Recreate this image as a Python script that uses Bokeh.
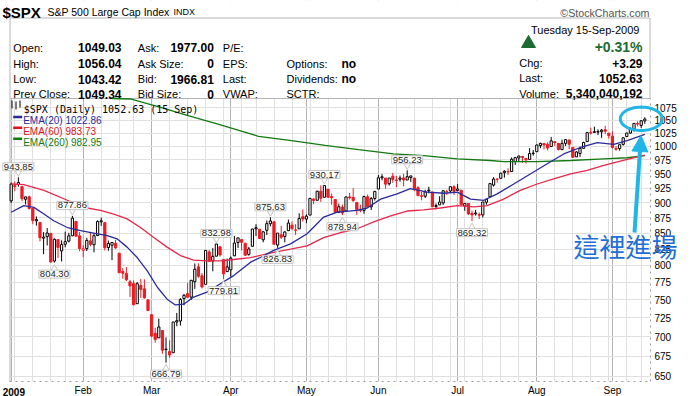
import math
import numpy as np
import pandas as pd
from bokeh.plotting import figure
from bokeh.models import (ColumnDataSource, Range1d, FixedTicker, PrintfTickFormatter,
                          Label, Arrow, NormalHead, PolyAnnotation, BoxAnnotation,
                          GlobalInlineStyleSheet)
from bokeh.core.properties import value
from bokeh.embed import file_html
from bokeh.resources import INLINE

# ---------------- data ----------------
first_day = "2009-01-02"
last_day = "2009-09-15"
market_holidays = ["2009-01-19", "2009-02-16", "2009-04-10", "2009-05-25", "2009-07-03", "2009-09-07"]
prev_close_2008 = 903.25

opens = [902.99, 929.17, 931.17, 927.45, 905.73, 909.91, 890.40, 869.79, 867.28, 841.99,
         844.45, 849.64, 806.77, 839.74, 822.16, 832.50, 837.30, 845.73, 868.89, 845.69,
         823.09, 825.69, 837.77, 831.75, 846.09, 868.24, 866.87, 827.41, 830.95, 833.95,
         818.61, 791.06, 787.91, 775.87, 773.25, 744.69, 770.64, 765.76, 749.93,
         729.57, 704.44, 698.60, 708.27, 684.04, 680.76, 679.28, 719.59, 720.89, 751.97,
         758.84, 753.88, 776.01, 797.92, 784.58, 772.31, 820.60, 806.81, 814.06, 828.68,
         809.07, 790.88,
         793.59, 814.53, 835.13, 839.75, 834.12, 816.76, 829.29, 856.85, 856.24, 839.44,
         854.54, 865.18, 868.27, 831.25, 847.26, 844.62, 853.91, 862.82, 854.48, 856.85, 876.59,
         872.74, 879.21, 906.10, 903.95, 919.58, 909.03, 922.99, 910.52, 905.40, 884.24,
         892.76, 886.07, 909.67, 908.62, 900.42, 888.68, 887.00, 909.95, 892.96, 907.02,
         923.26, 942.87, 942.51, 932.49, 945.67, 938.12, 940.35, 942.73, 939.04, 943.44,
         942.45, 925.60, 911.89, 910.86, 919.96, 918.13, 893.46, 896.31, 899.45, 918.84,
         919.86, 927.15,
         920.82, 921.24, 894.27, 898.60, 881.90, 881.28, 880.03, 879.57, 900.77, 910.15,
         930.17, 940.56, 942.07, 951.97, 953.40, 954.07, 972.16, 978.63, 981.48, 977.66,
         976.01, 986.80,
         990.22, 1001.41, 1005.41, 1004.06, 999.83, 1008.89, 1005.77, 994.00, 1005.86, 1012.23,
         998.18, 980.62, 986.88, 996.41, 1009.06, 1026.59, 1026.63, 1027.35, 1027.81, 1031.62,
         1025.21,
         1019.52, 996.07, 996.12, 1003.84, 1018.67, 1025.36, 1032.99, 1043.92, 1040.15, 1049.03]
highs = [934.73, 936.63, 943.85, 927.45, 910.00, 911.93, 890.40, 877.02, 867.28, 851.59,
         858.13, 849.64, 841.72, 839.74, 838.61, 852.53, 850.45, 877.86, 868.89, 851.66,
         830.78, 842.60, 851.85, 850.55, 870.75, 875.01, 868.05, 838.22, 835.13, 839.43,
         818.61, 796.17, 797.58, 778.69, 777.85, 775.49, 780.12, 779.42, 751.27,
         729.57, 711.67, 724.12, 708.27, 699.09, 695.27, 719.60, 731.92, 752.63, 758.29,
         774.53, 778.12, 803.04, 803.24, 788.91, 823.37, 823.65, 826.78, 832.98, 828.68,
         809.07, 810.48,
         813.62, 845.61, 842.50, 839.75, 834.12, 828.42, 856.91, 864.31, 856.24, 852.93,
         870.35, 875.63, 868.27, 850.09, 861.78, 852.87, 871.80, 868.83, 864.48, 882.06, 888.70,
         880.48, 907.85, 907.70, 920.28, 929.58, 930.17, 922.99, 915.57, 905.40, 898.36,
         896.97, 910.00, 916.39, 924.60, 900.42, 896.65, 911.76, 913.84, 909.45, 920.02,
         947.77, 949.38, 942.51, 942.47, 951.69, 946.33, 946.92, 949.77, 956.23, 946.30,
         942.45, 928.00, 918.44, 921.93, 927.09, 918.13, 898.69, 910.85, 921.42, 922.00,
         927.99, 930.01,
         931.92, 921.24, 898.72, 898.60, 886.80, 887.86, 883.57, 901.05, 905.84, 933.95,
         943.96, 941.89, 951.62, 956.53, 959.83, 979.42, 979.79, 982.49, 982.35, 977.76,
         996.68, 993.18,
         1003.61, 1007.12, 1006.64, 1008.00, 1018.00, 1010.12, 1005.77, 1012.78, 1013.14, 1012.60,
         998.18, 991.20, 999.61, 1008.92, 1027.59, 1035.82, 1037.75, 1032.47, 1033.33, 1039.47,
         1025.21,
         1028.45, 1000.34, 1003.43, 1016.48, 1026.07, 1036.34, 1044.14, 1048.18, 1049.74, 1056.04]
lows = [899.35, 919.53, 927.28, 902.37, 896.81, 888.31, 864.32, 862.02, 836.93, 817.04,
        830.66, 804.47, 804.30, 811.29, 806.07, 827.69, 835.40, 845.73, 844.15, 821.67,
        812.87, 821.98, 829.18, 819.91, 845.42, 861.65, 822.99, 822.30, 808.06, 825.21,
        789.17, 780.43, 777.03, 754.25, 742.37, 744.69, 752.89, 751.75, 734.52,
        699.70, 692.30, 698.60, 677.93, 666.79, 672.88, 679.28, 713.85, 714.76, 742.46,
        753.37, 749.93, 765.64, 781.82, 766.20, 772.31, 805.48, 791.37, 814.06, 813.43,
        779.81, 790.88,
        783.32, 814.53, 826.70, 822.79, 814.53, 814.84, 829.29, 845.35, 840.57, 835.58,
        847.04, 860.87, 832.39, 826.83, 840.57, 835.45, 853.91, 854.65, 847.12, 856.85, 868.51,
        866.10, 879.21, 897.34, 903.95, 901.36, 909.03, 908.68, 896.46, 882.79, 882.52,
        878.94, 886.07, 905.22, 901.37, 879.61, 883.75, 881.46, 891.87, 887.60, 903.56,
        923.26, 938.46, 923.85, 929.32, 934.13, 926.44, 936.15, 927.97, 939.04, 935.66,
        919.65, 911.60, 903.78, 907.94, 915.80, 893.04, 888.86, 896.31, 896.27, 913.03,
        916.18, 912.86,
        920.82, 896.42, 886.36, 879.93, 869.32, 878.45, 872.81, 875.32, 896.50, 910.15,
        927.45, 934.65, 940.99, 943.22, 947.75, 953.27, 965.95, 972.29, 969.35, 968.65,
        976.01, 982.85,
        990.22, 996.68, 994.31, 992.49, 999.83, 1000.99, 992.40, 993.36, 1000.82, 994.60,
        978.51, 980.62, 980.62, 996.39, 1009.06, 1022.48, 1026.21, 1021.57, 1016.20, 1023.13,
        1014.62,
        996.28, 991.97, 992.25, 1001.65, 1018.67, 1023.97, 1028.04, 1038.40, 1035.00, 1043.42]
closes = [931.80, 927.45, 934.70, 906.65, 909.73, 890.35, 870.26, 871.79, 842.62, 843.74,
          850.12, 805.22, 840.24, 827.50, 831.95, 836.57, 845.71, 874.09, 845.14, 825.88,
          825.44, 838.51, 832.23, 845.85, 868.60, 869.89, 827.16, 833.74, 835.19, 826.84,
          789.17, 788.42, 778.94, 770.05, 743.33, 773.14, 764.90, 752.83, 735.09,
          700.82, 696.33, 712.87, 682.55, 683.38, 676.53, 719.60, 721.36, 750.74, 756.55,
          753.89, 778.12, 794.35, 784.04, 768.54, 822.92, 806.12, 813.88, 832.86, 815.94,
          787.53, 797.87,
          811.08, 834.38, 842.50, 835.48, 815.55, 825.16, 856.56, 858.73, 841.50, 852.06,
          865.30, 869.60, 832.39, 850.08, 843.55, 851.92, 866.23, 857.51, 855.16, 873.64, 872.81,
          877.52, 907.24, 903.80, 919.53, 907.39, 929.23, 909.24, 908.35, 883.92, 893.07,
          882.88, 909.71, 908.13, 903.47, 888.33, 887.00, 910.33, 893.06, 906.83, 919.14,
          942.87, 944.74, 931.76, 942.46, 940.09, 939.14, 942.43, 939.15, 944.89, 946.21,
          923.72, 911.97, 910.71, 918.37, 921.23, 893.04, 895.10, 900.94, 920.26, 918.90,
          927.23, 919.32,
          923.33, 896.42, 898.72, 881.03, 879.56, 882.68, 879.13, 901.05, 905.84, 932.68,
          940.74, 940.38, 951.13, 954.58, 954.07, 976.29, 979.26, 982.18, 979.62, 975.15,
          986.75, 987.48,
          1002.63, 1005.65, 1002.72, 997.08, 1010.48, 1007.10, 994.35, 1005.81, 1012.73, 1004.09,
          979.73, 989.67, 996.46, 1007.37, 1026.13, 1025.57, 1028.00, 1028.12, 1030.98, 1028.93,
          1020.62,
          998.04, 994.75, 1003.24, 1016.40, 1025.39, 1033.37, 1044.14, 1042.73, 1049.34, 1052.63]

# moving averages (bar number, price)
ema20_x = [0, 3.5, 6.3, 9.1, 11.8, 15.6, 19.3, 22.9, 26.7, 29.4, 32.2, 35, 37.8, 40.6, 43.3,
           45.6, 47.9, 50.7, 54.4, 58.1, 61.8, 66.5, 69.2, 72.9, 77.6, 82.2, 86.8, 90.6, 96.1,
           98.9, 102.6, 107.2, 110.9, 115.6, 120.2, 123.9, 127.6, 131.3, 135, 139.6, 144.3,
           148.9, 153.5, 158.1, 162.8, 167.4, 171.1, 176]
ema20_v = [884, 895, 892, 881, 870, 859, 854, 850, 846, 841, 828, 812, 792, 768, 751,
           743, 744, 754, 761, 773, 785, 805, 812, 823, 833, 849, 876, 884, 887,
           891, 906, 915, 924, 918, 916, 918, 906, 904, 915, 932, 950,
           968, 986, 998, 1007, 1004, 1011, 1022.86]
ema60_x = [0, 3.5, 9.1, 15.6, 21.1, 24.8, 28.5, 32.2, 35.9, 39.6, 43.3, 47, 50.7, 54.4, 58.1,
           61.8, 66.5, 68.3, 72.9, 77.6, 82.2, 86.8, 91.5, 96.1, 100.7, 105.4, 110, 114.6,
           119.2, 123.9, 128.5, 132.2, 136.8, 141.4, 146.1, 150.7, 155.4, 160, 164.6, 169.2, 176]
ema60_v = [932, 931, 921, 904, 891, 887, 881, 873, 859, 843, 828, 815, 808, 807, 807,
           809, 812, 814, 820, 825, 830, 843, 851, 857, 868, 878, 886, 888,
           891, 895, 893, 895, 906, 921, 932, 941, 950, 956, 965, 973, 983.73]
ema260_x = [28, 33.1, 41.5, 48.9, 57.2, 66.5, 68.7, 77.9, 87.2, 96.5, 106.2, 114.6, 123.9,
            133.1, 136.8, 146.1, 155.4, 164.6, 171.1, 176]
ema260_v = [1103, 1093, 1076, 1060, 1043, 1024, 1019, 1011, 1002, 994, 986, 983, 977,
            974, 972, 972, 974, 977, 979, 982.95]

month_labels = ["2009", "Feb", "Mar", "Apr", "May", "Jun", "Jul", "Aug", "Sep"]
price_ticks = [650, 675, 700, 725, 750, 775, 800, 825, 850, 875, 900, 925, 950, 975,
               1000, 1025, 1050, 1075]

callout_dates = ["2009-01-06", "2009-01-28", "2009-01-21", "2009-03-06", "2009-03-26",
                 "2009-03-30", "2009-04-17", "2009-04-21", "2009-05-08", "2009-05-15",
                 "2009-06-11", "2009-07-08"]
callout_values = [943.85, 877.86, 804.30, 666.79, 832.98, 779.81, 875.63, 826.83,
                  930.17, 878.94, 956.23, 869.32]
callout_sides = ["high", "high", "low", "low", "high", "low", "high", "low",
                 "high", "low", "high", "low"]

legend_title = "$SPX (Daily) 1052.63 (15 Sep)"
legend_names = ["EMA(20) 1022.86", "EMA(60) 983.73", "EMA(260) 982.95"]
note_text = "這裡進場"

title_symbol = "$SPX"
title_name = "S&P 500 Large Cap Index"
title_exchange = "INDX"
credit = "\u00a9StockCharts.com"
quote_date = "Tuesday  15-Sep-2009"
pct_change = "+0.31%"
col1_labels = ["Open:", "High:", "Low:", "Prev Close:"]
col1_values = ["1049.03", "1056.04", "1043.42", "1049.34"]
col2_labels = ["Ask:", "Ask Size:", "Bid:", "Bid Size:"]
col2_values = ["1977.00", "0", "1966.81", "0"]
col3_labels = ["P/E:", "EPS:", "Last:", "VWAP:"]
col4_labels = ["", "Options:", "Dividends:", "SCTR:"]
col4_values = ["", "no", "no", ""]
right_labels = ["Chg:", "Last:", "Volume:"]
right_values = ["+3.29", "1052.63", "5,340,040,192"]

# ---------------- styling / layout ----------------
RED = "#ec1c24"
BLUE = "#2a2a9c"
LRED = "#e8284a"
GREEN = "#127a12"
HGREEN = "#1c6b30"
CYAN = "#22b5e8"
FONT = "Liberation Sans"

W, H = 698, 396
CH_L, CH_R, CH_T, CH_B = 9, 650, 98, 381   # price panel, in page pixels
BAR_PX = 3.6        # pixels per trading day
X0_PX = 10.7        # pixel of the first trading day
LOG_PX = 533.5      # pixels per unit of ln(price)
PRICE_AT_TOP = 1094.0


def X(px):
    return (px - X0_PX) / BAR_PX


def Y(py):
    return PRICE_AT_TOP * math.exp(-(py - CH_T) / LOG_PX)


dates = pd.bdate_range(first_day, last_day)
dates = dates[~dates.isin(pd.to_datetime(market_holidays))]
n = len(closes)
bars = list(range(n))
month_start = [i for i in bars if i == 0 or dates[i].month != dates[i - 1].month]
week_start = [i for i in bars if i == 0 or dates[i].weekday() < dates[i - 1].weekday()]
day_index = {d.strftime("%Y-%m-%d"): i for i, d in enumerate(dates)}

p = figure(frame_width=W, frame_height=H, x_range=Range1d(X(0), X(W)),
           y_range=Range1d(Y(H), Y(0)), y_axis_type="log", y_axis_location="right",
           x_axis_location="below", toolbar_location=None, output_backend="svg",
           min_border=0, outline_line_color=None)

# grid of the price panel
p.xgrid.ticker = FixedTicker(ticks=month_start, minor_ticks=week_start)
p.xgrid.grid_line_color = "#b4b4b4"
p.xgrid.minor_grid_line_color = "#e0e0e0"
p.ygrid.ticker = FixedTicker(ticks=price_ticks)
p.ygrid.grid_line_color = "#e0e0e0"
# keep the grid inside the price panel
for kw in (dict(bottom=Y(CH_T)), dict(top=Y(CH_B)), dict(left=X(CH_R)), dict(right=X(CH_L))):
    p.add_layout(BoxAnnotation(fill_color="white", fill_alpha=1, line_color=None,
                               level="underlay", **kw))

# axes drawn at the panel edges
p.xaxis.fixed_location = Y(CH_B)
p.xaxis.bounds = (X(CH_L), X(CH_R))
p.yaxis.fixed_location = X(CH_R)
p.yaxis.bounds = (Y(CH_B), Y(CH_T))
p.xaxis.ticker = FixedTicker(ticks=month_start)
overrides = {m: lab for m, lab in zip(month_start, month_labels)}
overrides[month_start[0]] = ""
p.xaxis.major_label_overrides = overrides
p.yaxis.ticker = FixedTicker(ticks=price_ticks)
p.yaxis.formatter = PrintfTickFormatter(format="%d")
for ax in (p.xaxis[0], p.yaxis[0]):
    ax.axis_line_color = "#999999"
    ax.axis_line_dash = "dotted"
    ax.major_tick_line_color = None
    ax.minor_tick_line_color = None
    ax.major_tick_out = 0
    ax.major_tick_in = 0
    ax.major_label_text_font = FONT
    ax.major_label_text_font_size = "10px"
    ax.major_label_text_color = "black"
p.xaxis.major_label_standoff = 3
p.yaxis.major_label_standoff = 4
# the year under the first trading day, bold, kept inside the page
p.text(x=[month_start[0]], y=[Y(391)], text=[month_labels[0]], x_offset=-8.5,
       text_font=value(FONT), text_font_size=value("10px"), text_font_style="bold",
       text_align="left", text_baseline="alphabetic", text_color="black")

# header box and panel border
p.quad(left=X(9.5), right=X(649.5), top=Y(17.5), bottom=Y(CH_T), fill_color=None,
       line_color="#b5b5b5")
p.segment(x0=[X(9.5)], x1=[X(9.5)], y0=[Y(CH_T)], y1=[Y(CH_B)], line_color="#b5b5b5")


def htext(pxs, pys, texts, size, bold=False, align="left", color="black", font=FONT):
    p.text(x=[X(a) for a in pxs], y=[Y(b) for b in pys], text=texts, text_font=value(font),
           text_font_size=value(size), text_font_style="bold" if bold else "normal",
           text_align=align, text_baseline="alphabetic", text_color=color)


htext([2], [11.5], [title_symbol], "15px", bold=True)
htext([47], [11.3], [title_name], "10.5px")
htext([173], [11], [title_exchange], "9px")
htext([649], [12.7], [credit], "10.7px", align="right", color="#555555")

rows_y = [47.3, 63.3, 78.7, 93.7]
htext([12.7] * 4, rows_y, col1_labels, "11px")
htext([121] * 4, rows_y, col1_values, "12px", bold=True, align="right")
htext([137.3] * 4, rows_y, col2_labels, "11px")
htext([213.3] * 4, rows_y, col2_values, "12px", bold=True, align="right")
htext([222.3] * 4, rows_y, col3_labels, "11px")
htext([286] * 4, rows_y, col4_labels, "11px")
htext([341] * 4, rows_y, col4_values, "12px", bold=True)

htext([642], [29.3], [quote_date], "11px", align="right")
p.patch([X(521), X(528), X(535)], [Y(47), Y(35), Y(47)], fill_color=HGREEN, line_color=HGREEN)
htext([642], [46.7], [pct_change], "14px", bold=True, align="right", color=HGREEN)
right_y = [62.7, 77.7, 93.3]
htext([518.7] * 3, right_y, right_labels, "11px")
htext([642] * 3, right_y, right_values, "12px", bold=True, align="right")

# candlesticks
prev = [prev_close_2008] + closes[:-1]
col = [RED if c < pc else "black" for c, pc in zip(closes, prev)]
fill = [cl if c < o else "white" for cl, c, o in zip(col, closes, opens)]
src = ColumnDataSource(dict(x=bars, h=highs, l=lows,
                            top=[max(o, c) for o, c in zip(opens, closes)],
                            bot=[min(o, c) for o, c in zip(opens, closes)],
                            col=col, fill=fill))
p.segment(x0="x", y0="l", x1="x", y1="h", line_color="col", line_width=1, source=src)
p.vbar(x="x", width=0.62, top="top", bottom="bot", fill_color="fill", line_color="col",
       line_width=1, source=src)

# moving averages (the long one runs off the top of the panel)
ema260_src = ColumnDataSource(dict(x=ema260_x, y=[min(v, Y(CH_T)) for v in ema260_v]))
p.line(x="x", y="y", source=ema260_src, line_color=GREEN, line_width=1.3)
p.line(ema60_x, ema60_v, line_color=LRED, line_width=1.3)
p.line(ema20_x, ema20_v, line_color=BLUE, line_width=1.3)

# callouts
cx, cy, cm = [], [], []
for d, v, s in zip(callout_dates, callout_values, callout_sides):
    i = day_index[d]
    up = s == "high"
    cx.append(i)
    cy.append(v * math.exp((5 if up else -6) / LOG_PX))
    cm.append("inverted_triangle" if up else "triangle")
p.scatter(x="x", y="y", marker="m", size=7, fill_color="white", line_color="#c4c4c4",
          source=ColumnDataSource(dict(x=cx, y=cy, m=cm)))
for d, v, s in zip(callout_dates, callout_values, callout_sides):
    up = s == "high"
    p.add_layout(Label(x=day_index[d], y=v * math.exp((10.5 if up else -11.5) / LOG_PX),
                       text=f"{v:.2f}", text_align="center", text_baseline="middle",
                       text_font=FONT, text_font_size="9.5px", text_color="#222222",
                       background_fill_color="white", border_line_color="#c4c4c4", padding=1))

# legend block
p.add_layout(Label(x=X(23.3), y=Y(109), text=legend_title, text_font="DejaVu Sans Mono",
                   text_font_size="10px", text_color="black", text_baseline="alphabetic"))
p.segment(x0=[X(11.5), X(15.5), X(19.5)], x1=[X(11.5), X(15.5), X(19.5)],
          y0=[Y(100), Y(101), Y(100)], y1=[Y(108), Y(109), Y(107)], line_color="black")
for name, colr, by in zip(legend_names, [BLUE, "#e0101e", GREEN], [120, 130.7, 141.7]):
    p.segment(x0=[X(12.7)], x1=[X(21.7)], y0=[Y(by - 3.5)], y1=[Y(by - 3.5)],
              line_color=colr, line_width=2.5)
    p.add_layout(Label(x=X(22.7), y=Y(by), text=name, text_font=FONT, text_font_size="10px",
                       text_color=colr, text_baseline="alphabetic"))

# note: ellipse, arrow, text
t = np.linspace(0, 2 * np.pi, 73)
ex = [X(640.8 + 21 * math.cos(a)) for a in t]
ey = [Y(118.3 + 11.7 * math.sin(a)) for a in t]
p.add_layout(PolyAnnotation(xs=ex, ys=ey, fill_color=None, fill_alpha=0,
                            line_color=CYAN, line_alpha=1.0, line_width=3))
p.add_layout(Arrow(end=NormalHead(size=16, fill_color=CYAN, line_color=CYAN),
                   x_start=X(634), y_start=Y(232), x_end=X(640.5), y_end=Y(135),
                   line_color=CYAN, line_width=4))
p.add_layout(Label(x=X(573), y=Y(244.5), text=note_text, text_font="Noto Sans CJK TC",
                   text_font_size="26px", text_color="#1e6fd8", text_baseline="alphabetic"))

p.stylesheets = [GlobalInlineStyleSheet(
    css="html, body { margin: 0 !important; padding: 0; overflow: hidden; }")]

open("out.html", "w").write(file_html(p, INLINE))
